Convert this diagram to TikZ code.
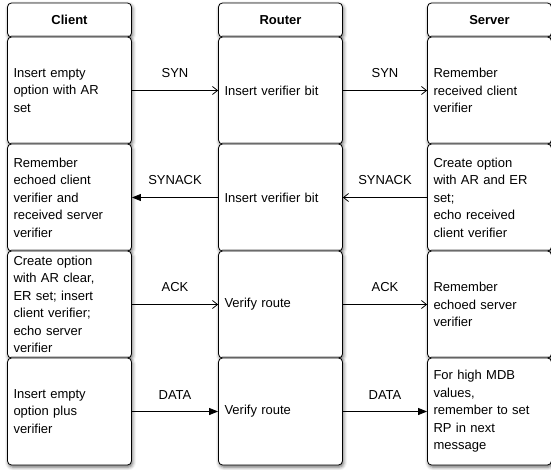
\documentclass[tikz,border=0pt]{standalone}
\usepackage{fontspec}
\setmainfont{Liberation Sans}
\usepackage{tikz}
\usetikzlibrary{arrows.meta,positioning,shadows.blur}

\begin{document}
\begin{tikzpicture}[x=1pt, y=1pt, line width=0.8pt,
    every node/.style={font=\fontsize{13}{17.5}\selectfont},
    box/.style={draw, rounded corners=4pt, fill=white,
      blur shadow={shadow xshift=1pt, shadow yshift=-2pt, shadow blur radius=3.5pt, shadow opacity=60}},
    head/.style={box, minimum width=124pt, minimum height=34pt, inner sep=0pt,
      font=\fontsize{13}{15}\selectfont\bfseries},
    cell/.style={box, text width=112pt, inner xsep=6pt, inner ysep=1pt,
      minimum height=107pt, align=left},
    msg/.style={fill=white, inner xsep=7pt, inner ysep=4pt, above=8pt},
    open/.style={-{Straight Barb[length=5pt,width=8pt]}},
    solid/.style={-{Triangle[length=9pt,width=7pt]}}]
  \useasboundingbox (0,0) rectangle (551,-470);

  % column heads
  \node[head] (hc) at (69.5,-20) {Client};
  \node[head] (hr) at (280.5,-20) {Router};
  \node[head] (hs) at (489.5,-20) {Server};

  % client column
  \node[cell] (c1) at (69.5,-90.5) {Insert empty\\option with AR\\set};
  \node[cell] (c2) at (69.5,-197.5) {Remember\\echoed client\\verifier and\\received server\\verifier};
  \node[cell] (c3) at (69.5,-304.5) {Create option\\with AR clear,\\ER set; insert\\client verifier;\\echo server\\verifier};
  \node[cell] (c4) at (69.5,-411.5) {Insert empty\\option plus\\verifier};

  % router column
  \node[cell] (r1) at (280.5,-90.5) {Insert verifier bit};
  \node[cell] (r2) at (280.5,-197.5) {Insert verifier bit};
  \node[cell] (r3) at (280.5,-304.5) {Verify route};
  \node[cell] (r4) at (280.5,-411.5) {Verify route};

  % server column
  \node[cell] (s1) at (489.5,-90.5) {Remember\\received client\\verifier};
  \node[cell] (s2) at (489.5,-197.5) {Create option\\with AR and ER\\set;\\echo received\\client verifier};
  \node[cell] (s3) at (489.5,-304.5) {Remember\\echoed server\\verifier};
  \node[cell] (s4) at (489.5,-411.5) {For high MDB\\values,\\remember to set\\RP in next\\message};

  % messages
  \draw[open] (c1.east) -- node[msg]{SYN} (r1.west);
  \draw[open] (r1.east) -- node[msg]{SYN} (s1.west);
  \draw[open] (s2.west) -- node[msg]{SYNACK} (r2.east);
  \draw[solid] (r2.west) -- node[msg]{SYNACK} (c2.east);
  \draw[open] (c3.east) -- node[msg]{ACK} (r3.west);
  \draw[open] (r3.east) -- node[msg]{ACK} (s3.west);
  \draw[solid] (c4.east) -- node[msg]{DATA} (r4.west);
  \draw[solid] (r4.east) -- node[msg]{DATA} (s4.west);
\end{tikzpicture}
\end{document}
